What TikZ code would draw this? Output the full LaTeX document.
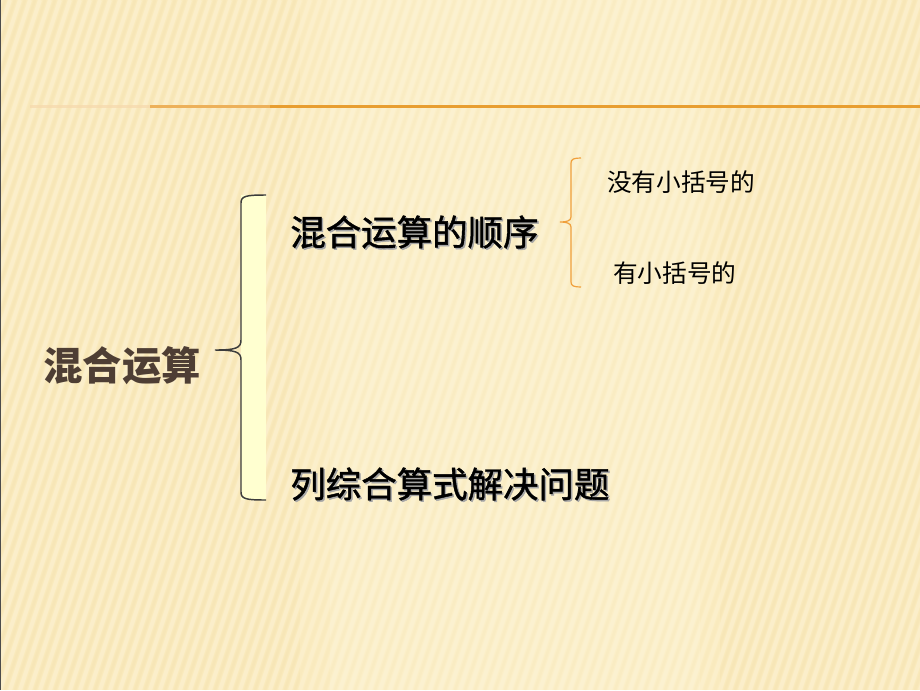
\documentclass[tikz,border=0pt]{standalone}
\usepackage{fontspec}
\newfontfamily\cjk{Noto Sans CJK SC}
\newfontfamily\cjkb[FakeBold=1.2]{Noto Sans CJK SC}
\usetikzlibrary{fadings}
\definecolor{bgcol}{RGB}{250,234,188}
\definecolor{bglight}{RGB}{253,242,205}
\definecolor{linecol}{RGB}{232,158,48}
\definecolor{browntxt}{RGB}{78,62,52}
\definecolor{bracecol}{RGB}{60,60,60}
\definecolor{bracefill}{RGB}{255,255,208}
\definecolor{smallbrace}{RGB}{240,160,60}
\tikzset{
  bigtxt/.style={font=\cjkb\fontsize{26.6}{30}\selectfont, text=black, inner sep=0pt, anchor=west},
  shadowtxt/.style={font=\cjkb\fontsize{26.6}{30}\selectfont, text=black!35, inner sep=0pt, anchor=west},
  smalltxt/.style={font=\cjk\fontsize{18.5}{22}\selectfont, text=black, inner sep=0pt, anchor=west},
  titletxt/.style={font=\cjk\bfseries\fontsize{29.5}{34}\selectfont, text=browntxt, inner sep=0pt},
  stripe/.style={white, line width=3pt, opacity=0.22},
  darkstripe/.style={bgcol!80!brown, line width=2pt, opacity=0.18}
}
\begin{document}
\begin{tikzpicture}[x=0.75pt,y=-0.75pt]
% background
\useasboundingbox (0,0) rectangle (920,690);
\fill[bgcol] (0,0) rectangle (920,690);
\fill[bglight, opacity=0.6] (330,0) rectangle (700,690);
\begin{scope}
\clip (0,0) rectangle (920,690);
\foreach \i in {-300,-290,...,1100} {
  \draw[stripe] (\i,690) -- (\i+230,0);
  \draw[darkstripe] (\i+5,690) -- (\i+235,0);
}
\end{scope}
\fill[bglight, opacity=0.35] (300,0) rectangle (720,690);
\draw[black!70, line width=1.2pt] (0,0) -- (0,690);
% top rule
\fill[linecol!40, opacity=0.7] (30,104.5) rectangle (270,107.5);
\fill[linecol!80] (150,104.5) rectangle (920,107.5);
\fill[linecol] (270,104.5) rectangle (920,107.5);
% big brace
\fill[bracefill] (241,195) rectangle (266,500);
\coordinate (bt) at (266,195);
\coordinate (bb) at (266,500);
\coordinate (btip) at (215,350);
\draw[bracecol, line width=1.1pt] (bt) .. controls (246,195) and (241,196) .. (241,203)
  -- (241,340) .. controls (241,348) and (236,350) .. (btip)
  .. controls (236,350) and (241,352) .. (241,360)
  -- (241,492) .. controls (241,499) and (246,500) .. (bb);
% left title
\node[titletxt] (title) at (122,366) {混合运算};
% middle texts
\node[shadowtxt] at (291.5,233.5) {混合运算的顺序};
\node[bigtxt] (order) at (290,232) {混合运算的顺序};
\node[shadowtxt] at (291.5,485.5) {列综合算式解决问题};
\node[bigtxt] (solve) at (290,484) {列综合算式解决问题};
% small brace
\coordinate (st) at (581,158);
\coordinate (sb) at (581,287);
\coordinate (stip) at (560,222);
\draw[smallbrace, line width=0.9pt] (st) .. controls (574,158) and (571,159) .. (571,163)
  -- (571,217) .. controls (571,221) and (566,222) .. (stip)
  .. controls (566,222) and (571,223) .. (571,227)
  -- (571,282) .. controls (571,286) and (574,287) .. (sb);
\node[smalltxt] (nob) at (607,182) {没有小括号的};
\node[smalltxt] (withb) at (613,273) {有小括号的};
\end{tikzpicture}
\end{document}
